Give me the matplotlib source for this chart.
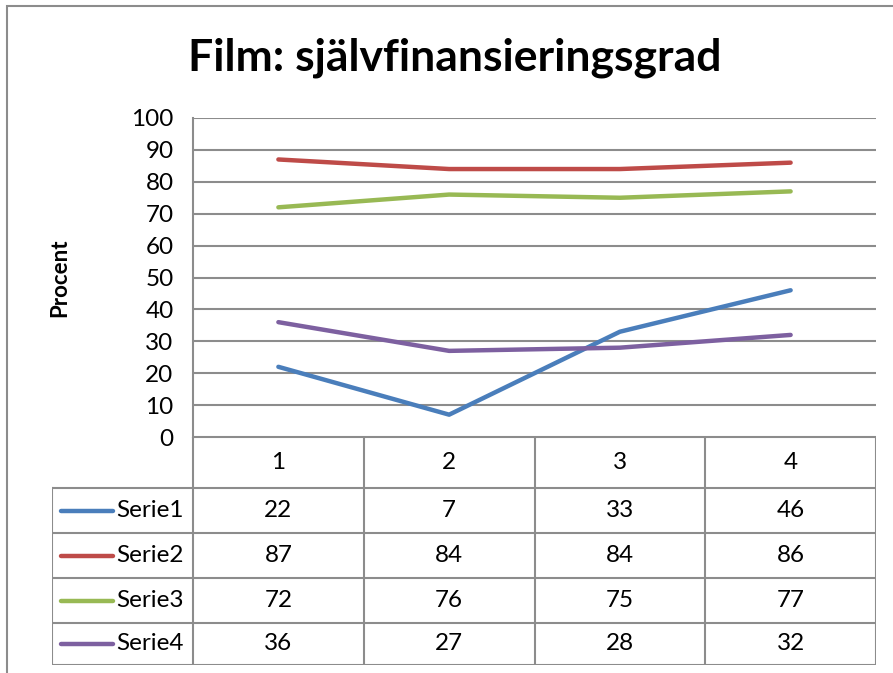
import matplotlib.pyplot as plt
from matplotlib.lines import Line2D
from matplotlib.patches import Rectangle

plt.rcParams['font.family'] = ['Lato', 'DejaVu Sans']

categories = ['1', '2', '3', '4']
series_names = ['Serie1', 'Serie2', 'Serie3', 'Serie4']
serie1 = [22, 7, 33, 46]
serie2 = [87, 84, 84, 86]
serie3 = [72, 76, 75, 77]
serie4 = [36, 27, 28, 32]
colors = ['#4A7EBB', '#BE4B48', '#98B954', '#7D60A0']
yticks = list(range(0, 101, 10))

W, H = 893, 673
grid_c = '#8C8C8C'
fs = 17.5
fig = plt.figure(figsize=(W / 100, H / 100), dpi=100)

# outer chart frame (runs off the right/bottom edge like the original)
fig.add_artist(Rectangle((7 / W, -0.05), 1.1, (H - 6) / H + 0.05, transform=fig.transFigure,
                         fill=False, edgecolor='#8C8C8C', lw=1.5))

# plot area
x0, x1 = 193, 876
ytop, ybot = 118, 437
ax = fig.add_axes([x0 / W, (H - ybot) / H, (x1 - x0) / W, (ybot - ytop) / H])
xs = list(range(len(categories)))
for vals, c in zip([serie1, serie2, serie3, serie4], colors):
    ax.plot(xs, vals, color=c, lw=3.2, solid_capstyle='round')
ax.set_xlim(-0.5, len(categories) - 0.5)
ax.set_ylim(0, 100)
ax.set_yticks(yticks)
ax.set_yticklabels([str(t) for t in yticks], fontsize=fs)
ax.set_xticks([])
ax.tick_params(axis='y', length=0, pad=14)
ax.grid(axis='y', color=grid_c, lw=1.5)
ax.set_axisbelow(True)
for s in ['top', 'right', 'bottom']:
    ax.spines[s].set_visible(False)
ax.spines['left'].set_color(grid_c)
ax.spines['left'].set_linewidth(1.5)
ax.set_ylabel('Procent', fontsize=16, fontweight='bold')
ax.yaxis.set_label_coords(-0.18, 0.5)

fig.text(455 / W, (H - 58) / H, 'Film: självfinansieringsgrad', fontsize=32,
         fontweight='bold', ha='center', va='center')

# data table underneath
tl = 52
tab = fig.add_axes([tl / W, (H - 665) / H, (x1 - tl) / W, (665 - ybot) / H])
colw = (x1 - x0) / len(categories)
leg_w = (x0 - tl) / colw
tab.set_xlim(-0.5 - leg_w, len(categories) - 0.5)
rows = [437, 488, 533, 578, 623, 665]
tab.set_ylim(rows[-1], rows[0])
tab.axis('off')
lk = dict(color=grid_c, lw=1.5, solid_capstyle='projecting')
# horizontal lines
tab.plot([-0.5, len(categories) - 0.5], [rows[0], rows[0]], **lk)
for r in rows[1:]:
    tab.plot([-0.5 - leg_w, len(categories) - 0.5], [r, r], **lk)
# vertical lines
for i in range(len(categories) + 1):
    tab.plot([i - 0.5, i - 0.5], [rows[0], rows[-1]], **lk)
tab.plot([-0.5 - leg_w, -0.5 - leg_w], [rows[1], rows[-1]], **lk)

for i, cat in enumerate(categories):
    tab.text(i, (rows[0] + rows[1]) / 2, cat, ha='center', va='center', fontsize=fs)
data = [serie1, serie2, serie3, serie4]
for j, (name, vals, c) in enumerate(zip(series_names, data, colors)):
    yc = (rows[j + 1] + rows[j + 2]) / 2
    for i, v in enumerate(vals):
        tab.text(i, yc, str(v), ha='center', va='center', fontsize=fs)
    lx = -0.5 - leg_w
    tab.add_line(Line2D([lx + 0.05, lx + 0.355], [yc, yc], color=c, lw=3.2,
                        solid_capstyle='round'))
    tab.text(lx + 0.375, yc, name, ha='left', va='center', fontsize=fs)

fig.savefig('out.png', dpi=100)
